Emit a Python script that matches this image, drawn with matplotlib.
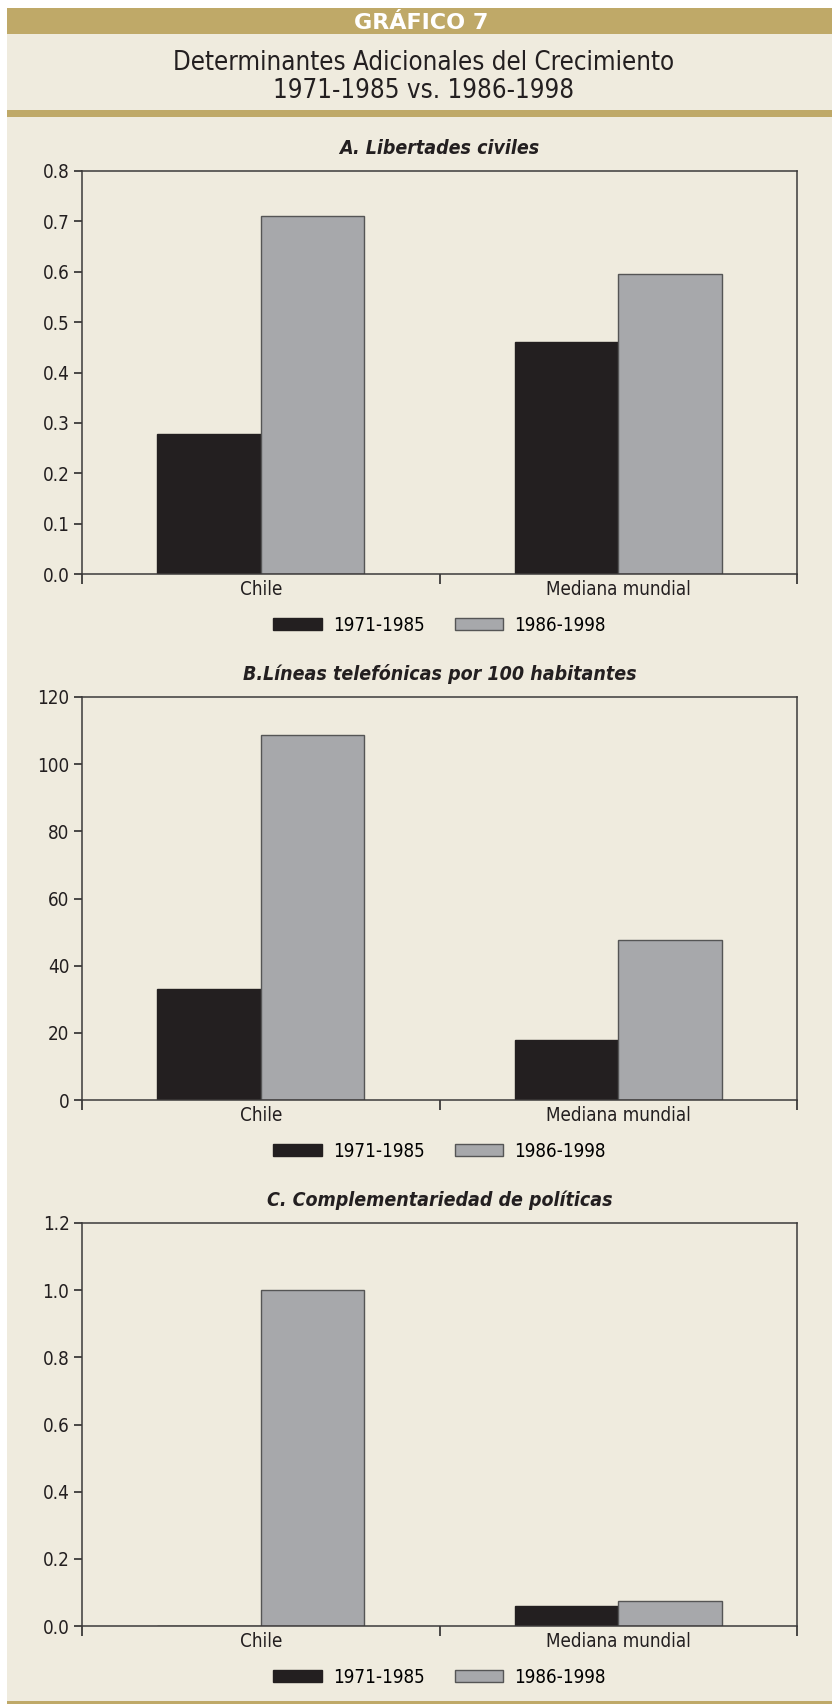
import matplotlib.pyplot as plt
from matplotlib.patches import Rectangle

# Data
categories = ['Chile', 'Mediana mundial']
series_labels = ['1971-1985', '1986-1998']
panel_titles = ['A. Libertades civiles',
                'B.Líneas telefónicas por 100 habitantes',
                'C. Complementariedad de políticas']
civil_liberties = [[0.277, 0.46], [0.71, 0.595]]
phone_lines = [[33.0, 18.0], [108.8, 47.7]]
policy_complement = [[0.0, 0.06], [1.0, 0.075]]
yticks_a = [0.0, 0.1, 0.2, 0.3, 0.4, 0.5, 0.6, 0.7, 0.8]
yticks_b = [0, 20, 40, 60, 80, 100, 120]
yticks_c = [0.0, 0.2, 0.4, 0.6, 0.8, 1.0, 1.2]

panel_data = [civil_liberties, phone_lines, policy_complement]
panel_ticks = [(yticks_a, '{:.1f}'), (yticks_b, '{:.0f}'), (yticks_c, '{:.1f}')]

# Colours
bg = '#efebde'
gold = '#bfa968'
frame = '#3c3a3a'
ink = '#231f20'
bar_colors = ['#231f20', '#a7a8ab']
bar_edges = ['#231f20', '#555555']

plt.rcParams['font.family'] = ['DejaVu Sans']
plt.rcParams['font.stretch'] = 'condensed'

W, H = 832, 1704
fig = plt.figure(figsize=(W / 100, H / 100), dpi=100)
fig.patch.set_facecolor('white')


def px_rect(x0, y0, x1, y1, color):
    fig.patches.append(Rectangle((x0 / W, 1 - y1 / H), (x1 - x0) / W, (y1 - y0) / H,
                                 transform=fig.transFigure, color=color, zorder=-5,
                                 linewidth=0))


# Page background and header bands
px_rect(7, 8, W, H, bg)
px_rect(7, 8, W, 34, gold)
px_rect(7, 110, W, 117, gold)
px_rect(7, 1701, W, 1704, gold)

fig.text(421 / W, 1 - 23 / H, 'GRÁFICO 7', color='white', fontsize=16,
         fontweight='bold', fontstretch='normal', ha='center', va='center')
fig.text(424 / W, 1 - 77 / H, 'Determinantes Adicionales del Crecimiento\n1971-1985 vs. 1986-1998',
         color=ink, fontsize=18.5, ha='center', va='center', linespacing=1.1)

# Axes boxes in pixels: left, right, top, bottom
left, right = 82, 797
tops = [171, 697, 1223]
ax_h = 403
bar_w = 0.29

for i, top in enumerate(tops):
    ax = fig.add_axes([left / W, 1 - (top + ax_h) / H, (right - left) / W, ax_h / H])
    ax.set_facecolor(bg)
    vals = panel_data[i]
    ticks, fmt = panel_ticks[i]
    x = range(len(categories))
    handles = []
    for j, series in enumerate(vals):
        offs = [xi + (j - 0.5) * bar_w for xi in x]
        h = ax.bar(offs, series, width=bar_w, color=bar_colors[j], edgecolor=bar_edges[j],
                   linewidth=1.0, label=series_labels[j], zorder=2)
        handles.append(h)
    ax.set_xlim(-0.5, 1.5)
    ax.set_ylim(ticks[0], ticks[-1])
    ax.set_yticks(ticks)
    ax.set_yticklabels([fmt.format(t) for t in ticks], fontsize=13.5, color=ink)
    # Ticks sit on the category boundaries, labels at the centres
    ax.set_xticks([-0.5, 0.5, 1.5])
    ax.set_xticklabels([])
    ax.set_xticks([0, 1], minor=True)
    ax.set_xticklabels(categories, minor=True, fontsize=13.5, color=ink)
    ax.tick_params(axis='x', which='minor', length=0, pad=4)
    ax.tick_params(axis='x', which='major', length=7, width=1.3, color=frame, direction='out')
    ax.tick_params(axis='y', length=6, width=1.3, color=frame, direction='out', pad=3)
    for s in ax.spines.values():
        s.set_color(frame)
        s.set_linewidth(1.1)
    ax.set_title(panel_titles[i], fontsize=14, fontweight='bold', fontstyle='italic',
                 color=ink, pad=12)
    ax.legend(handles, series_labels, loc='upper center', bbox_to_anchor=(0.5, -0.062),
              ncol=2, frameon=False, fontsize=13.5, handlelength=2.6, handleheight=0.6,
              columnspacing=1.6, handletextpad=0.6)

fig.savefig('out.png', dpi=100, facecolor=fig.get_facecolor())
